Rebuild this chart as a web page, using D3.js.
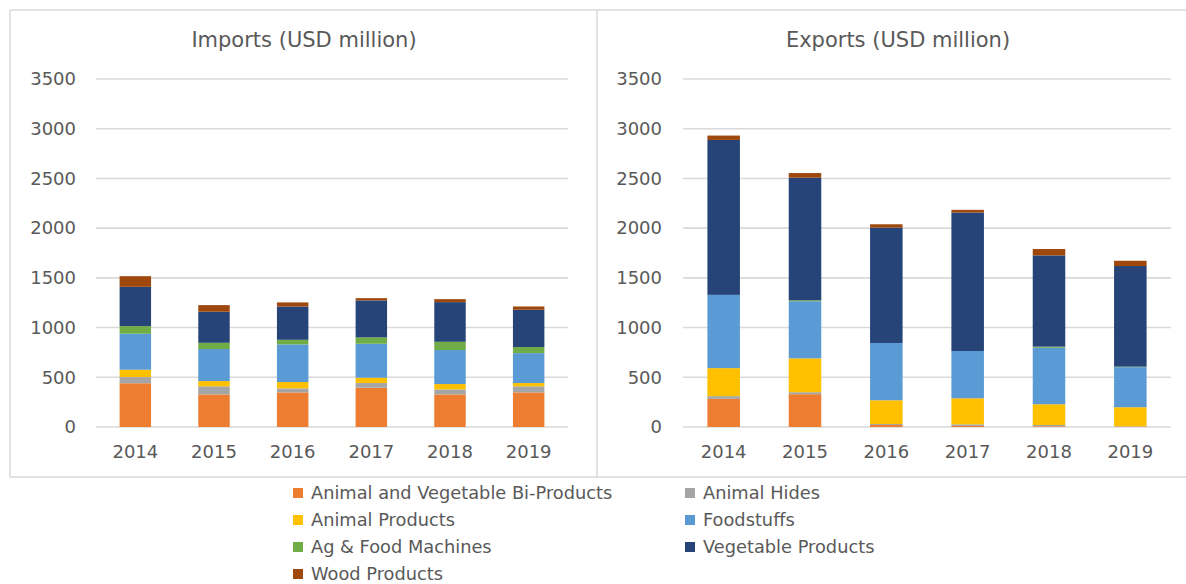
<!DOCTYPE html>
<html>
<head>
<meta charset="utf-8">
<script src="https://cdn.jsdelivr.net/npm/d3@7"></script>
<style>
  html, body { margin: 0; padding: 0; background: #fff; }
  svg { display: block; }
  text { font-family: "DejaVu Sans", sans-serif; fill: #595959; }
</style>
</head>
<body>
<svg id="chart" width="1186" height="584"></svg>
<script>
// Trade by product group, 2014-2019 (USD million)
const years = ["2014", "2015", "2016", "2017", "2018", "2019"];
const seriesNames = [
  "Animal and Vegetable Bi-Products",
  "Animal Hides",
  "Animal Products",
  "Foodstuffs",
  "Ag & Food Machines",
  "Vegetable Products",
  "Wood Products"
];
const seriesColors = ["#ED7D31", "#A5A5A5", "#FFC000", "#5B9BD5", "#70AD47", "#264478", "#9E480E"];
const yTicks = [0, 500, 1000, 1500, 2000, 2500, 3000, 3500];

// Imports
const impBiProducts   = [440, 328, 348, 395, 328, 348];
const impHides        = [62, 81, 40, 47, 50, 61];
const impAnimal       = [74, 53, 64, 54, 54, 33];
const impFoodstuffs   = [362, 322, 379, 341, 342, 301];
const impMachines     = [77, 63, 46, 64, 83, 61];
const impVegetable    = [395, 312, 335, 372, 399, 375];
const impWood         = [107, 67, 41, 23, 30, 33];

// Exports
const expBiProducts   = [283, 330, 20, 10, 7, 2];
const expHides        = [27, 20, 10, 17, 13, 5];
const expAnimal       = [282, 340, 239, 262, 209, 192];
const expFoodstuffs   = [737, 575, 576, 475, 568, 403];
const expMachines     = [0, 10, 0, 0, 11, 5];
const expVegetable    = [1558, 1232, 1160, 1393, 918, 1012];
const expWood         = [44, 47, 34, 27, 64, 53];

const importSeries = [impBiProducts, impHides, impAnimal, impFoodstuffs, impMachines, impVegetable, impWood];
const exportSeries = [expBiProducts, expHides, expAnimal, expFoodstuffs, expMachines, expVegetable, expWood];

const svg = d3.select("#chart");

// Panel frames
const frame = svg.append("g").attr("stroke", "#d9d9d9").attr("stroke-width", 1.5).attr("fill", "none");
frame.append("line").attr("x1", 10).attr("x2", 1186).attr("y1", 10).attr("y2", 10);
frame.append("line").attr("x1", 10).attr("x2", 1186).attr("y1", 477).attr("y2", 477);
frame.append("line").attr("x1", 10).attr("x2", 10).attr("y1", 10).attr("y2", 477);
frame.append("line").attr("x1", 597).attr("x2", 597).attr("y1", 10).attr("y2", 477);

function drawPanel(opts) {
  const { title, titleX, x0, x1, labelRight, series } = opts;
  const rows = years.map((yr, i) => {
    const row = { year: yr };
    seriesNames.forEach((name, k) => { row[name] = series[k][i]; });
    return row;
  });
  const stacked = d3.stack().keys(seriesNames)(rows);

  const x = d3.scaleBand().domain(years).range([x0, x1]).paddingInner(0.6).paddingOuter(0.3);
  const y = d3.scaleLinear().domain([0, 3500]).range([427, 79]);

  const g = svg.append("g");

  // Gridlines
  g.append("g").selectAll("line").data(yTicks).join("line")
    .attr("x1", x0).attr("x2", x1)
    .attr("y1", d => y(d)).attr("y2", d => y(d))
    .attr("stroke", "#d9d9d9").attr("stroke-width", 1.6);

  // Value axis labels
  const yAxis = d3.axisLeft(y).tickValues(yTicks).tickFormat(d3.format("d")).tickSize(0).tickPadding(0);
  const ya = g.append("g").attr("transform", `translate(${labelRight},0)`).call(yAxis);
  ya.select(".domain").remove();
  ya.selectAll("text").attr("font-size", 18).attr("fill", "#595959")
    .attr("font-family", "DejaVu Sans, sans-serif");

  // Category axis labels
  const xAxis = d3.axisBottom(x).tickSize(0).tickPadding(0);
  const xa = g.append("g").attr("transform", "translate(0,440)").call(xAxis);
  xa.select(".domain").remove();
  xa.selectAll("text").attr("font-size", 18).attr("fill", "#595959")
    .attr("font-family", "DejaVu Sans, sans-serif").attr("dy", "1em");

  // Stacked bars
  g.append("g").selectAll("g").data(stacked).join("g")
    .attr("fill", (d, i) => seriesColors[i])
    .selectAll("rect").data(d => d).join("rect")
    .attr("x", d => x(d.data.year))
    .attr("width", x.bandwidth())
    .attr("y", d => y(d[1]))
    .attr("height", d => Math.max(0, y(d[0]) - y(d[1])));

  // Title
  g.append("text").attr("x", titleX).attr("y", 47)
    .attr("text-anchor", "middle").attr("font-size", 21)
    .text(title);
}

drawPanel({ title: "Imports (USD million)", titleX: 304, x0: 96, x1: 568, labelRight: 76, series: importSeries });
drawPanel({ title: "Exports (USD million)", titleX: 898, x0: 683, x1: 1171, labelRight: 662, series: exportSeries });

// Legend (two columns, row-major)
const legendCols = [293, 685];
const legendRows = [493, 520, 547, 574];
const legend = svg.append("g");
seriesNames.forEach((name, i) => {
  const cx = legendCols[i % 2];
  const cy = legendRows[Math.floor(i / 2)];
  const item = legend.append("g").attr("transform", `translate(${cx},${cy})`);
  item.append("rect").attr("x", 0).attr("y", -5).attr("width", 10).attr("height", 10)
    .attr("fill", seriesColors[i]);
  item.append("text").attr("x", 18).attr("y", 0).attr("dy", "0.36em")
    .attr("font-size", 17.8).text(name);
});
</script>
</body>
</html>
